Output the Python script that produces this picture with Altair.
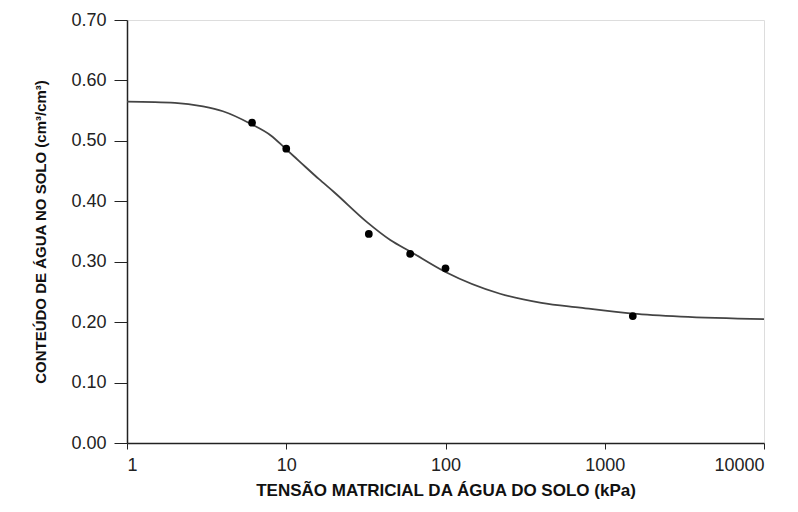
import altair as alt
import pandas as pd

# observed points
obs_kpa = [6.1, 10, 33, 60, 100, 1500]
obs_theta = [0.530, 0.487, 0.346, 0.313, 0.289, 0.210]

# fitted curve
fit_kpa = [1, 2, 3, 4, 6, 8, 10, 12, 16, 20, 32, 45, 60, 100, 220, 400, 700, 1500, 3000, 10000]
fit_theta = [0.565, 0.563, 0.557, 0.549, 0.528, 0.509, 0.486, 0.467, 0.437, 0.415, 0.366, 0.336, 0.317,
             0.283, 0.247, 0.232, 0.224, 0.214, 0.209, 0.205]

y_ticks = [round(i * 0.05, 2) for i in range(15)]
x_ticks = [1, 10, 100, 1000, 10000]

obs = pd.DataFrame({"kpa": obs_kpa, "theta": obs_theta})
fit = pd.DataFrame({"kpa": fit_kpa, "theta": fit_theta})

xscale = alt.Scale(type="log", domain=[1, 10000], nice=False)
yscale = alt.Scale(domain=[0, 0.70], nice=False)

xaxis = alt.Axis(
    title="TENSÃO MATRICIAL DA ÁGUA DO SOLO (kPa)",
    values=x_ticks, format="d", grid=False,
    labelFont="Liberation Sans", labelFontSize=18, labelColor="#222",
    labelPadding=7, tickSize=6, tickColor="#222", domainColor="#222", domainWidth=1.5,
    titleFont="Liberation Sans", titleFontSize=17, titleFontWeight="bold",
    titleColor="#111", titlePadding=8,
)
yaxis = alt.Axis(
    title="CONTEÚDO DE ÁGUA NO SOLO (cm³/cm³)",
    values=y_ticks, grid=False,
    labelExpr="(round(datum.value*100) % 10 == 0) ? format(datum.value, '.2f') : ''",
    labelFont="Liberation Sans", labelFontSize=18, labelColor="#222",
    labelPadding=8, tickSize=13, tickColor="#222", domainColor="#222", domainWidth=1.5,
    titleFont="Liberation Sans", titleFontSize=15, titleFontWeight="bold",
    titleColor="#111", titlePadding=22,
)

line = alt.Chart(fit).mark_line(color="#444", strokeWidth=1.8, interpolate="monotone").encode(
    x=alt.X("kpa:Q", scale=xscale, axis=xaxis),
    y=alt.Y("theta:Q", scale=yscale, axis=yaxis),
)
pts = alt.Chart(obs).mark_circle(color="#000", opacity=1, size=60).encode(
    x=alt.X("kpa:Q", scale=xscale),
    y=alt.Y("theta:Q", scale=yscale),
)

chart = (line + pts).properties(
    width=637, height=423,
    autosize="none",
    padding={"left": 119, "top": 12, "right": 26, "bottom": 61},
).configure_view(stroke=None).configure(background="white")

chart.save("out.html", embed_options={"renderer": "svg", "actions": False})
